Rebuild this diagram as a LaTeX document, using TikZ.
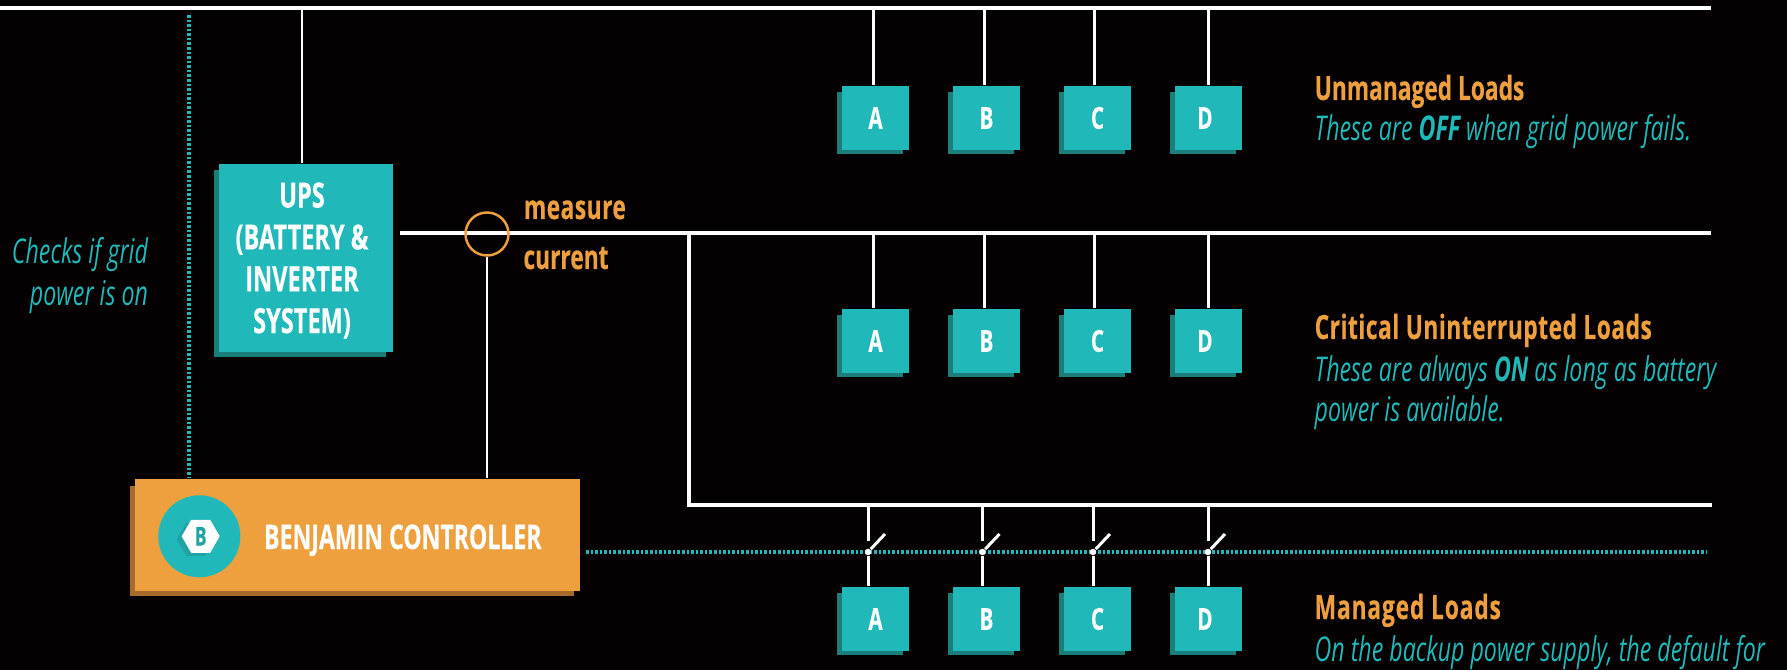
\documentclass[tikz,border=0pt]{standalone}
\usepackage{fontspec}
\usetikzlibrary{shapes.geometric,shadows,positioning}
\newfontfamily\condfont[FakeStretch=0.68,BoldFeatures={FakeBold=0.35}]{Open Sans}
\definecolor{pagebg}{HTML}{050001}
\definecolor{tealbox}{HTML}{20B8B8}
\definecolor{tealdark}{HTML}{1A7F7B}
\definecolor{tealmid}{HTML}{22A3A3}
\definecolor{orangebox}{HTML}{EE9F3E}
\definecolor{orangedark}{HTML}{A66B2C}

\begin{document}
\begin{tikzpicture}[x=0.01cm, y=-0.01cm, every node/.style={inner sep=0pt, font=\condfont},
	bus/.style={draw=white, line width=0.9pt},
	wire/.style={draw=white, line width=0.85pt},
	sense/.style={draw=tealbox, line width=0.92pt, dash pattern=on 0.72pt off 0.58pt},
	loadbox/.style={fill=tealbox, minimum width=0.67cm, minimum height=0.64cm, text=white,
		font=\condfont\bfseries\fontsize{8.6}{10}\selectfont,
		copy shadow={fill=tealdark, shadow xshift=-0.055cm, shadow yshift=-0.05cm}},
	pivot/.style={circle, fill=white, minimum size=0.065cm},
	heading/.style={anchor=base west, text=orangebox, font=\condfont\bfseries\fontsize{9.5}{11}\selectfont},
	note/.style={anchor=base west, text=tealbox, font=\condfont\itshape\fontsize{9.7}{11}\selectfont}]
	\fill[pagebg] (0,0) rectangle (1787,670);
	\useasboundingbox (0,0) rectangle (1787,670);

	% Buses
	\coordinate (topleft) at (0,8);
	\coordinate (topright) at (1711,8);
	\coordinate (midleft) at (400,233);
	\coordinate (midright) at (1711,233);
	\coordinate (lowtap) at (689,233);
	\coordinate (lowcorner) at (689,505);
	\coordinate (lowright) at (1712,505);
	\draw[bus] (topleft) -- (topright);
	\draw[bus] (midleft) -- (midright);
	\draw[bus] (lowtap) -- (lowcorner) -- (lowright);

	% UPS
	\node[fill=tealbox, minimum width=1.74cm, minimum height=1.88cm,
		copy shadow={fill=tealdark, shadow xshift=-0.06cm, shadow yshift=-0.055cm}] (ups) at (306,258) {};
	\node[text=white, align=center, font=\condfont\bfseries\fontsize{9.85}{11.9}\selectfont] (upstext) at (302,260.5)
		{UPS\\(BATTERY \&\\INVERTER\\SYSTEM)};
	\coordinate (upstap) at (302,8);
	\draw[wire] (upstap) -- (upstap |- ups.north);

	% Controller
	\node[fill=orangebox, minimum width=4.45cm, minimum height=1.12cm,
		copy shadow={fill=orangedark, shadow xshift=-0.05cm, shadow yshift=-0.06cm}] (ctrl) at (357.4,535) {};
	\node[circle, fill=tealbox, minimum size=0.82cm] (badge) at (199.3,536.3) {};
	\node[regular polygon, regular polygon sides=6, fill=tealmid, minimum size=0.38cm] (hexshadow) at (195.7,539.3) {};
	\node[regular polygon, regular polygon sides=6, fill=white, minimum size=0.38cm, text=tealmid,
		font=\condfont\bfseries\fontsize{7.4}{8}\selectfont] (hex) at (200.7,536.3) {B};
	\node[anchor=base west, text=white, font=\condfont\bfseries\fontsize{9.65}{11}\selectfont] (ctrltitle) at (263.4,549) {BENJAMIN CONTROLLER};

	% Current sensor
	\node[circle, draw=orangebox, line width=0.7pt, minimum size=0.43cm] (sensor) at (487,234) {};
	\draw[wire] (sensor.south) -- (sensor.south |- ctrl.north);
	\node[heading] (measure) at (523.2,219) {\addfontfeature{LetterSpace=1.5}measure};
	\node[heading] (current) at (522.8,269) {current};

	% Grid check
	\coordinate (gridtap) at (189,15);
	\draw[sense] (gridtap) -- (gridtap |- ctrl.north);
	\node[note, anchor=base east] (check1) at (148.7,264) {Checks if grid};
	\node[note, anchor=base east] (check2) at (148.7,306) {power is on};

	% Unmanaged loads
	\node[loadbox] (u1) at (875.5,118) {A};
	\node[loadbox] (u2) at (986.5,118) {B};
	\node[loadbox] (u3) at (1097.5,118) {C};
	\node[loadbox] (u4) at (1208.5,118) {D\kern2pt};
	\coordinate (u1tap) at (873,8);
	\coordinate (u2tap) at (984,8);
	\coordinate (u3tap) at (1094,8);
	\coordinate (u4tap) at (1208,8);
	\draw[wire] (u1tap) -- (u1tap |- u1.north);
	\draw[wire] (u2tap) -- (u2tap |- u2.north);
	\draw[wire] (u3tap) -- (u3tap |- u3.north);
	\draw[wire] (u4tap) -- (u4tap |- u4.north);

	% Critical loads
	\node[loadbox] (c1) at (875.5,341) {A};
	\node[loadbox] (c2) at (986.5,341) {B};
	\node[loadbox] (c3) at (1097.5,341) {C};
	\node[loadbox] (c4) at (1208.5,341) {D\kern2pt};
	\coordinate (c1tap) at (873,233);
	\coordinate (c2tap) at (984,233);
	\coordinate (c3tap) at (1094,233);
	\coordinate (c4tap) at (1208,233);
	\draw[wire] (c1tap) -- (c1tap |- c1.north);
	\draw[wire] (c2tap) -- (c2tap |- c2.north);
	\draw[wire] (c3tap) -- (c3tap |- c3.north);
	\draw[wire] (c4tap) -- (c4tap |- c4.north);

	% Managed loads
	\node[loadbox] (m1) at (875.5,619) {A};
	\node[loadbox] (m2) at (986.5,619) {B};
	\node[loadbox] (m3) at (1097.5,619) {C};
	\node[loadbox] (m4) at (1208.5,619) {D\kern2pt};

	% Relay line
	\coordinate (relaystart) at (586,552);
	\coordinate (relayend) at (1707,552);
	\draw[sense] (relaystart) -- (relayend);

	% Switches
	\node[pivot] (s1) at (868,552) {};
	\node[pivot] (s2) at (982.5,552) {};
	\node[pivot] (s3) at (1093,552) {};
	\node[pivot] (s4) at (1208,552) {};
	\coordinate (s1arm) at (885,534);
	\coordinate (s2arm) at (999.5,534);
	\coordinate (s3arm) at (1110,534);
	\coordinate (s4arm) at (1225,534);
	\draw[wire] (s1) -- (s1arm);
	\draw[wire] (s2) -- (s2arm);
	\draw[wire] (s3) -- (s3arm);
	\draw[wire] (s4) -- (s4arm);
	\draw[wire] (s1) -- (s1 |- m1.north);
	\draw[wire] (s2) -- (s2 |- m2.north);
	\draw[wire] (s3) -- (s3 |- m3.north);
	\draw[wire] (s4) -- (s4 |- m4.north);
	\coordinate (s1tap) at (868,505);
	\coordinate (s2tap) at (982.5,505);
	\coordinate (s3tap) at (1093,505);
	\coordinate (s4tap) at (1208,505);
	\coordinate (s1stub) at (868,541);
	\coordinate (s2stub) at (982.5,541);
	\coordinate (s3stub) at (1093,541);
	\coordinate (s4stub) at (1208,541);
	\draw[wire] (s1tap) -- (s1stub);
	\draw[wire] (s2tap) -- (s2stub);
	\draw[wire] (s3tap) -- (s3stub);
	\draw[wire] (s4tap) -- (s4stub);

	% Captions
	\node[heading] (uhead) at (1314,100) {Unmanaged Loads};
	\node[note] (utext) at (1314,141) {These are {\bfseries OFF} when grid power fails.};
	\node[heading] (chead) at (1314,339) {\addfontfeature{LetterSpace=1.6}Critical Uninterrupted Loads};
	\node[note] (ctext) at (1314,381) {These are always {\bfseries ON} as long as battery};
	\node[note] (ctext2) at (1314,422) {power is available.};
	\node[heading] (mhead) at (1314,619) {\addfontfeature{LetterSpace=2.6}Managed Loads};
	\node[note] (mtext) at (1314,661) {On the backup power supply, the default for};
\end{tikzpicture}
\end{document}
